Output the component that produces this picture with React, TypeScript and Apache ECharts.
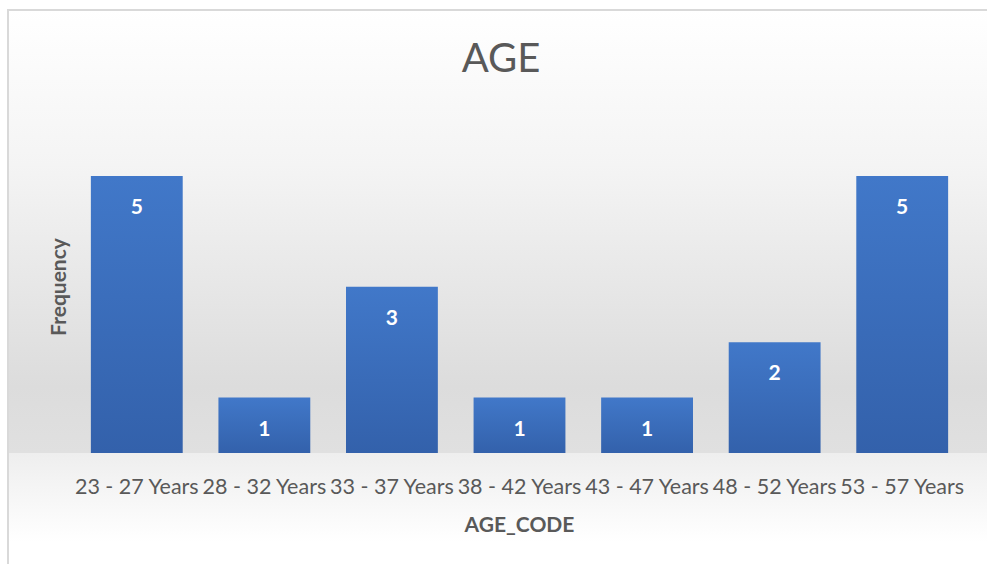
import React, { useEffect, useRef } from "react";
import * as echarts from "echarts";

const categories = [
  "23 - 27 Years",
  "28 - 32 Years",
  "33 - 37 Years",
  "38 - 42 Years",
  "43 - 47 Years",
  "48 - 52 Years",
  "53 - 57 Years",
];
const frequency = [5, 1, 3, 1, 1, 2, 5];
const titleText = "AGE";
const xAxisName = "AGE_CODE";
const yAxisName = "Frequency";

const FONT = "Lato, 'Open Sans', sans-serif";

export default function App() {
  const ref = useRef<HTMLDivElement>(null);
  useEffect(() => {
    document.body.style.margin = "0";
    if (!ref.current) return;
    const chart = echarts.init(ref.current, null, { renderer: "svg" });
    const W = 987;
    const H = 564;
    const base = 453;
    chart.setOption({
      animation: false,
      backgroundColor: "#ffffff",
      graphic: [
        {
          type: "rect",
          z: -10,
          silent: true,
          shape: { x: 7, y: 9, width: W, height: base - 9 },
          style: {
            fill: new echarts.graphic.LinearGradient(0, 0, 0, 1, [
              { offset: 0, color: "#ffffff" },
              { offset: 0.35, color: "#f4f4f4" },
              { offset: 0.85, color: "#dcdcdc" },
              { offset: 1, color: "#e0e0e0" },
            ]),
          },
        },
        {
          type: "rect",
          z: -10,
          silent: true,
          shape: { x: 7, y: base, width: W, height: H - base },
          style: {
            fill: new echarts.graphic.LinearGradient(0, 0, 0, 1, [
              { offset: 0, color: "#eeeeee" },
              { offset: 0.8, color: "#ffffff" },
              { offset: 1, color: "#ffffff" },
            ]),
          },
        },
        {
          type: "line",
          z: -5,
          silent: true,
          shape: { x1: 8, y1: 10, x2: W, y2: 10 },
          style: { stroke: "#d9d9d9", lineWidth: 2 },
        },
        {
          type: "line",
          z: -5,
          silent: true,
          shape: { x1: 8, y1: 9, x2: 8, y2: H },
          style: { stroke: "#d9d9d9", lineWidth: 2 },
        },
        {
          type: "text",
          silent: true,
          x: 57,
          y: 287,
          rotation: Math.PI / 2,
          style: {
            text: yAxisName,
            align: "center",
            verticalAlign: "middle",
            fontFamily: FONT,
            fontSize: 21,
            fontWeight: "bold",
            fill: "#595959",
          },
        },
        {
          type: "text",
          silent: true,
          x: 501,
          y: 57,
          style: {
            text: titleText,
            align: "center",
            verticalAlign: "middle",
            fontFamily: FONT,
            fontSize: 40,
            fontWeight: "normal",
            fill: "#595959",
          },
        },
      ],
      grid: { left: 73, right: 21, top: 176, bottom: H - base },
      xAxis: {
        type: "category",
        data: categories,
        name: xAxisName,
        nameLocation: "middle",
        nameGap: 60,
        nameTextStyle: {
          fontFamily: FONT,
          fontSize: 21,
          fontWeight: "bold",
          color: "#595959",
        },
        axisLine: { show: false },
        axisTick: { show: false },
        axisLabel: {
          interval: 0,
          margin: 22,
          fontFamily: FONT,
          fontSize: 21.5,
          color: "#595959",
        },
      },
      yAxis: {
        type: "value",
        min: 0,
        max: 5,
        axisLine: { show: false },
        axisTick: { show: false },
        axisLabel: { show: false },
        splitLine: { show: false },
      },
      series: [
        {
          type: "bar",
          data: frequency,
          barCategoryGap: "28%",
          itemStyle: {
            color: new echarts.graphic.LinearGradient(0, 0, 0, 1, [
              { offset: 0, color: "#4178c9" },
              { offset: 1, color: "#3361ab" },
            ]),
          },
          label: {
            show: true,
            position: "insideTop",
            distance: 19,
            fontFamily: FONT,
            fontSize: 21,
            fontWeight: "bold",
            color: "#ffffff",
          },
        },
      ],
    });
    return () => chart.dispose();
  }, []);
  return <div ref={ref} style={{ width: 987, height: 564 }} />;
}
